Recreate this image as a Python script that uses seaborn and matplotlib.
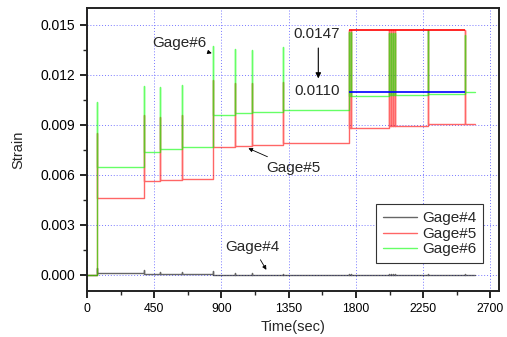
import matplotlib
matplotlib.use("Agg")
import matplotlib.pyplot as plt
import seaborn as sns
import pandas as pd

# ----------------- DATA -----------------
t_end = 2600

# step events (sec), same for gage#5 and gage#6
step_times = [68, 381, 490, 633, 844, 989, 1105, 1314, 1751, 1769,
              2020, 2034, 2047, 2060, 2281, 2531]

g6_peaks = [0.01038, 0.01132, 0.01130, 0.01142, 0.01372, 0.01358, 0.01348, 0.01368,
            0.01460, 0.01460, 0.01450, 0.01450, 0.01450, 0.01450, 0.01470, 0.01440]
g6_levels = [0.00644, 0.00738, 0.00752, 0.00766, 0.00960, 0.00974, 0.00978, 0.00992,
             0.01072, 0.01072, 0.01082, 0.01082, 0.01082, 0.01082, 0.01088, 0.01096]

g5_peaks = [0.00850, 0.00960, 0.00950, 0.00960, 0.01170, 0.01150, 0.01150, 0.01160,
            0.01470, 0.01470, 0.01470, 0.01470, 0.01470, 0.01470, 0.01470, 0.01470]
g5_levels = [0.00460, 0.00560, 0.00566, 0.00574, 0.00764, 0.00772, 0.00776, 0.00788,
             0.00884, 0.00884, 0.00894, 0.00894, 0.00894, 0.00894, 0.00904, 0.00904]

g4_peaks = [0.00040, 0.00028, 0.00015, 0.00015, 0.00020, 0.00010, 0.00008, 0.00006,
            0.00004, 0.00004, 0.00003, 0.00003, 0.00003, 0.00003, 0.00003, 0.00003]
g4_levels = [0.00008, 0.00003, 0.00003, 0.00003, 0.00000, 0.00000, 0.00000, 0.00000,
             -0.00002, -0.00002, -0.00002, -0.00002, -0.00002, -0.00002, -0.00002, -0.00002]

# reference levels drawn over the last load stage
ref_values = [0.0147, 0.0110]
ref_colors = ["red", "blue"]
ref_start, ref_stop = 1751, 2531


def build(name, peaks, levels):
    rows = [(0, 0.0)]
    prev = 0.0
    for t, pk, lv in zip(step_times, peaks, levels):
        rows += [(t, prev), (t, pk), (t, lv)]
        prev = lv
    rows.append((t_end, prev))
    df = pd.DataFrame(rows, columns=["time", "strain"])
    df["gage"] = name
    return df


data = pd.concat([
    build("Gage#4", g4_peaks, g4_levels),
    build("Gage#5", g5_peaks, g5_levels),
    build("Gage#6", g6_peaks, g6_levels),
], ignore_index=True)

palette = {"Gage#4": "black", "Gage#5": "red", "Gage#6": "#00ff00"}

# ----------------- PLOT -----------------
sns.set_style("ticks")
plt.rcParams["font.family"] = ["Liberation Sans", "DejaVu Sans"]

fig = plt.figure(figsize=(5.07, 3.37), dpi=100)
ax = fig.add_axes([0.1716, 0.1374, 0.8134, 0.8380])

sns.lineplot(data=data, x="time", y="strain", hue="gage", palette=palette,
             sort=False, estimator=None, linewidth=1.0, alpha=0.6, ax=ax)

for val, col in zip(ref_values, ref_colors):
    ax.hlines(val, ref_start, ref_stop, color=col, linewidth=1.2, zorder=4)

ax.set_xlim(0, 2760)
ax.set_ylim(-0.00096, 0.016)
ax.set_xticks([0, 450, 900, 1350, 1800, 2250, 2700])
ax.set_xticks([225, 675, 1125, 1575, 2025, 2475], minor=True)
ax.set_yticks([0.0, 0.003, 0.006, 0.009, 0.012, 0.015])
ax.set_yticks([0.0015, 0.0045, 0.0075, 0.0105, 0.0135], minor=True)
ax.set_yticklabels(["0.000", "0.003", "0.006", "0.009", "0.012", "0.015"])
ax.tick_params(which="major", direction="out", length=5, width=1.2, colors="black")
ax.tick_params(axis="x", labelsize=8.8)
ax.tick_params(axis="y", labelsize=10)
ax.tick_params(which="minor", direction="out", length=3, width=1.0)
ax.grid(True, which="major", linestyle=(0, (1, 2)), color="#7878ff", linewidth=0.7)
for s in ax.spines.values():
    s.set_linewidth(1.4)
    s.set_color("#222222")

ax.set_xlabel("Time(sec)", fontsize=10.5)
ax.set_ylabel("Strain", fontsize=10.5)
ax.yaxis.set_label_coords(-0.15, 0.5)

arrow = dict(arrowstyle="-|>", color="black", linewidth=0.6, mutation_scale=6)
ax.annotate("Gage#6", xy=(835, 0.0133), xytext=(621, 0.0139), fontsize=11,
            ha="center", va="center", arrowprops=arrow)
ax.annotate("Gage#5", xy=(1063, 0.00766), xytext=(1380, 0.0064), fontsize=11,
            ha="center", va="center", arrowprops=arrow)
ax.annotate("Gage#4", xy=(1210, 0.00015), xytext=(1110, 0.00166), fontsize=11,
            ha="center", va="center", arrowprops=arrow)
ax.text(1540, 0.01448, "0.0147", fontsize=11, ha="center", va="center")
ax.text(1540, 0.01101, "0.0110", fontsize=11, ha="center", va="center")
ax.annotate("", xy=(1548, 0.01162), xytext=(1548, 0.01378),
            arrowprops=dict(arrowstyle="-|>", color="black", linewidth=0.8, mutation_scale=8))

leg = ax.legend(loc="lower right", bbox_to_anchor=(0.961, 0.097), borderaxespad=0,
                fontsize=11, fancybox=False, framealpha=1, edgecolor="#333333",
                handlelength=2.2, handletextpad=0.35, labelspacing=0.1,
                borderpad=0.45, title=None)
leg.get_frame().set_linewidth(0.8)

fig.savefig("out.png", dpi=100)
